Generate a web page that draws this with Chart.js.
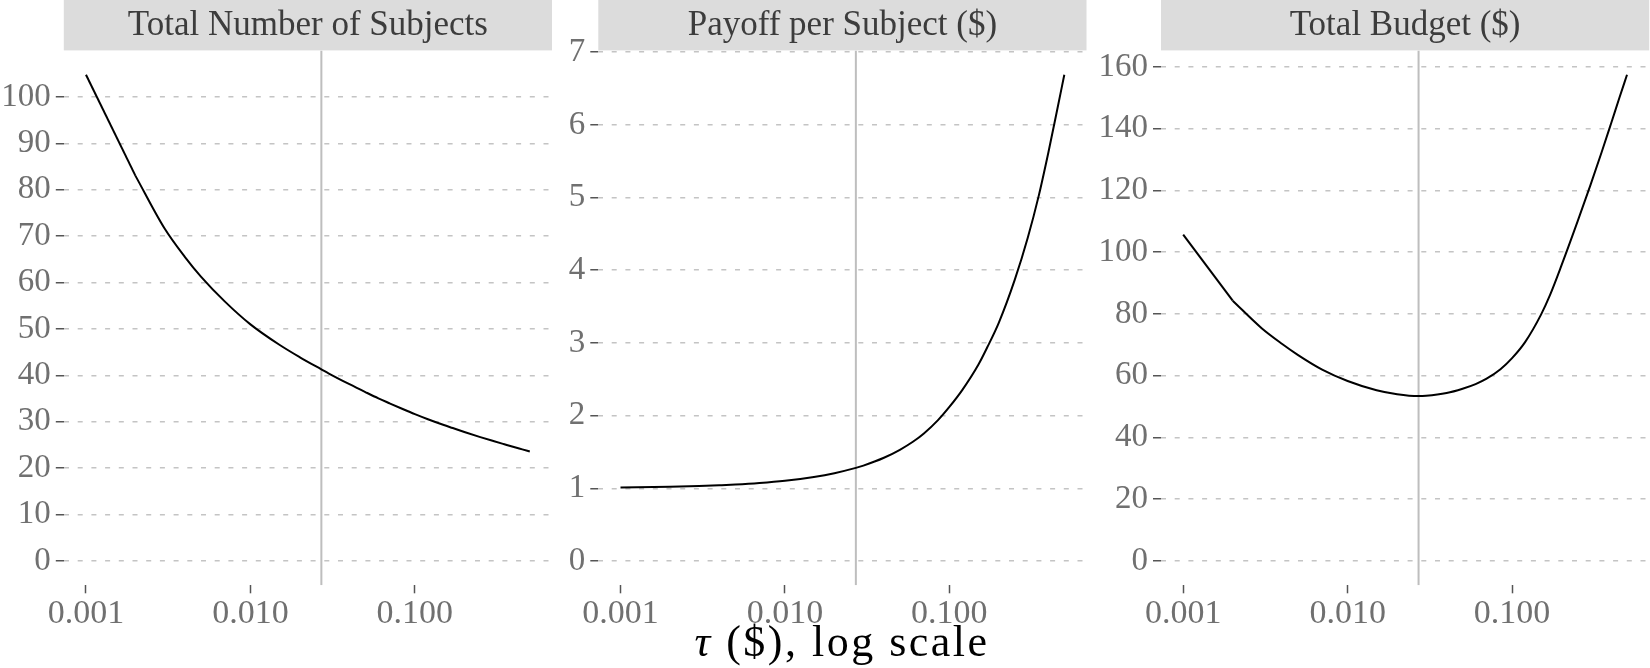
<!DOCTYPE html>
<html>
<head>
<meta charset="utf-8">
<script src="https://cdn.jsdelivr.net/npm/chart.js@4.4.1/dist/chart.umd.min.js"></script>
<style>
  body { margin: 0; width: 1650px; height: 668px; background: #fff; position: relative; overflow: hidden; }
  .panel { position: absolute; top: 0; height: 668px; }
  #xtitle { position: absolute; left: 592px; width: 500px; top: 620px; text-align: center;
            font: 44px/1 "Liberation Serif", serif; letter-spacing: 2.5px; color: #000; }
</style>
</head>
<body>
<div class="panel" style="left:0;width:556px"><canvas id="c1"></canvas></div>
<div class="panel" style="left:556px;width:534px"><canvas id="c2"></canvas></div>
<div class="panel" style="left:1090px;width:560px"><canvas id="c3"></canvas></div>
<div id="xtitle"><i>τ</i> ($), log scale</div>
<script>
// tau in $
const tau = [0.001, 0.002, 0.003, 0.004, 0.005, 0.007, 0.01, 0.015, 0.02, 0.027, 0.03, 0.04, 0.05, 0.06,
             0.07, 0.085, 0.1, 0.12, 0.15, 0.17, 0.2, 0.25, 0.3, 0.35, 0.4, 0.45, 0.5];
const subjects = [104.8, 83.0, 71.7, 65.5, 61.3, 55.9, 51.0, 46.6, 43.9, 41.3, 40.4, 38.1, 36.4, 35.05,
                  34.0, 32.7, 31.65, 30.55, 29.3, 28.65, 27.8, 26.7, 25.85, 25.15, 24.55, 24.05, 23.6];
const payoff = [1.010, 1.021, 1.031, 1.042, 1.052, 1.073, 1.104, 1.156, 1.208, 1.281, 1.312, 1.42, 1.53, 1.64,
                1.755, 1.935, 2.12, 2.355, 2.70, 2.94, 3.28, 3.87, 4.45, 5.03, 5.62, 6.18, 6.69];
const budget = [105.7, 84.3, 75.4, 70.3, 66.7, 62.0, 58.3, 55.3, 54.0, 53.4, 53.5, 54.4, 55.8, 57.3,
                59.05, 62.1, 65.7, 70.9, 79.8, 86.1, 95.8, 109.9, 121.8, 132.3, 141.7, 150.1, 157.5];
const tauStar = 0.027;

const xTicks = [0.001, 0.01, 0.1];
const subjectTicks = [0, 10, 20, 30, 40, 50, 60, 70, 80, 90, 100];
const payoffTicks = [0, 1, 2, 3, 4, 5, 6, 7];
const budgetTicks = [0, 20, 40, 60, 80, 100, 120, 140, 160];
const titles = ['Total Number of Subjects', 'Payoff per Subject ($)', 'Total Budget ($)'];

const FONT = '"Liberation Serif", "Times New Roman", serif';

const stripBg = {
  id: 'stripBg',
  beforeDraw(chart) {
    const a = chart.chartArea, ctx = chart.ctx;
    ctx.save();
    ctx.fillStyle = '#dcdcdc';
    ctx.fillRect(a.left, 0, a.right - a.left, a.top);
    ctx.restore();
  }
};

function pts(from, to, values) {
  return tau.slice(from, to).map((t, i) => ({ x: t, y: values[from + i] }));
}

function panel(id, title, values, yTicks, yAxisWidth, rightPad) {
  const ymax = Math.max(...values), ymin = 0;
  const yLo = ymin - 0.05 * (ymax - ymin), yHi = ymax + 0.05 * (ymax - ymin);
  const l0 = Math.log10(tau[0]), l1 = Math.log10(tau[tau.length - 1]);
  const xLo = Math.pow(10, l0 - 0.05 * (l1 - l0)), xHi = Math.pow(10, l1 + 0.05 * (l1 - l0));
  const curve = { borderColor: '#000', borderWidth: 2, pointRadius: 0, order: 1 };

  return new Chart(document.getElementById(id), {
    type: 'line',
    data: {
      datasets: [
        // first step is a straight piece (kink at 0.002), rest is smooth
        Object.assign({ data: pts(0, 2, values), tension: 0 }, curve),
        Object.assign({ data: pts(1, tau.length, values), cubicInterpolationMode: 'monotone' }, curve),
        {
          data: [{ x: tauStar, y: yLo }, { x: tauStar, y: yHi }],
          borderColor: '#bebebe',
          borderWidth: 2,
          pointRadius: 0,
          order: 2
        }
      ]
    },
    options: {
      responsive: true,
      maintainAspectRatio: false,
      animation: false,
      layout: { padding: { left: 0, right: rightPad, top: 0, bottom: 0 } },
      plugins: {
        legend: { display: false },
        tooltip: { enabled: false },
        title: {
          display: true, text: title, fullSize: false, position: 'top',
          color: '#3c3c3c', font: { family: FONT, size: 35, weight: 'normal' },
          padding: { top: 4.5, bottom: 3.9 }
        }
      },
      scales: {
        x: {
          type: 'logarithmic', min: xLo, max: xHi,
          afterBuildTicks: s => { s.ticks = xTicks.map(v => ({ value: v })); },
          afterFit: s => { s.height = 82.7; },
          ticks: {
            callback: v => Number(v).toFixed(3),
            color: '#707070', font: { family: FONT, size: 34 },
            padding: 0, maxRotation: 0, autoSkip: false
          },
          grid: { drawOnChartArea: false, drawTicks: true, tickLength: 8, tickColor: '#555', tickWidth: 1.5 },
          border: { display: false }
        },
        y: {
          type: 'linear', min: yLo, max: yHi,
          afterBuildTicks: s => { s.ticks = yTicks.map(v => ({ value: v })); },
          afterFit: s => { s.width = yAxisWidth; },
          ticks: { color: '#707070', font: { family: FONT, size: 33 }, padding: 5 },
          grid: { color: '#c4c4c4', lineWidth: 1.5, drawTicks: true, tickLength: 8,
                  tickColor: '#555', tickWidth: 1.5 },
          border: { display: false, dash: [5, 8.7] }
        }
      }
    },
    plugins: [stripBg]
  });
}

panel('c1', titles[0], subjects, subjectTicks, 63.8, 4);
panel('c2', titles[1], payoff, payoffTicks, 42.3, 3.5);
panel('c3', titles[2], budget, budgetTicks, 71, 0.8);
</script>
</body>
</html>
